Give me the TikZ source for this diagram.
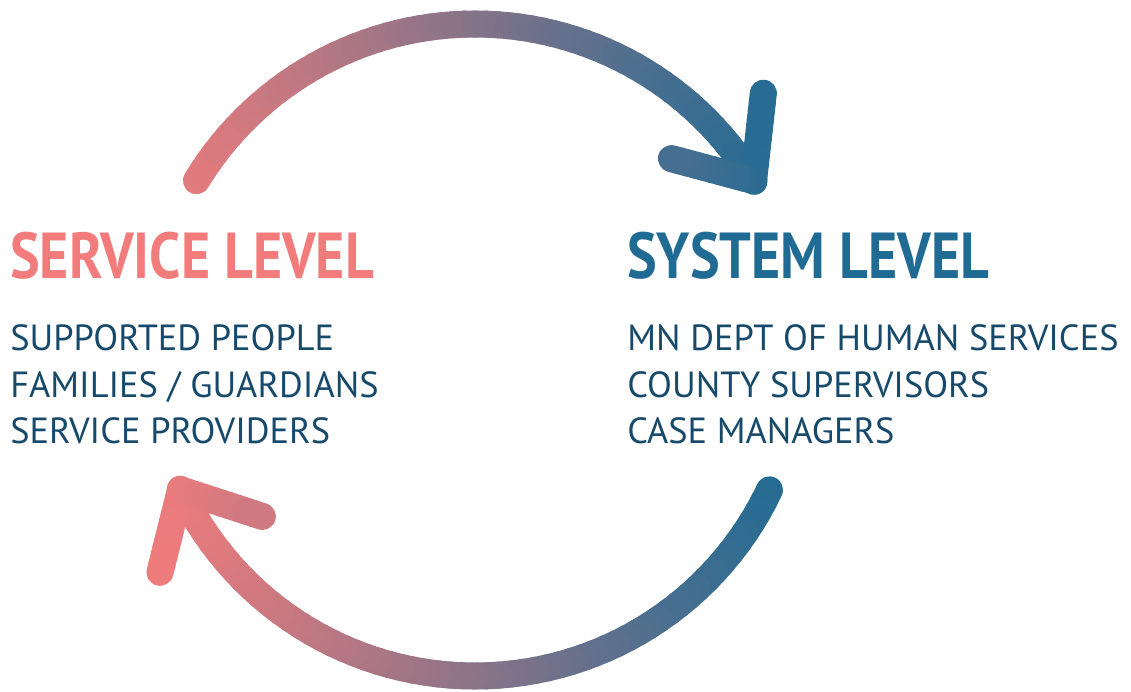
\documentclass[tikz,border=0pt]{standalone}
\usepackage{fontspec}
\usepackage{graphicx}
\setmainfont{PT Sans}
\usetikzlibrary{calc}
\definecolor{salmon}{HTML}{F27C7C}
\definecolor{sysblue}{HTML}{1F6B94}
\definecolor{listblue}{HTML}{17496A}
\tikzset{
  ring/.style={line width=0.54cm, line cap=round},
  heading/.style={inner sep=0pt, anchor=base west, font=\bfseries\fontsize{37}{40}\selectfont},
  entry/.style={inner sep=0pt, anchor=base west, font=\fontsize{20.7}{25}\selectfont, text=listblue},
}
\newcommand{\gradarm}[4]{%
  \foreach \k in {0,...,9}{%
    \pgfmathsetmacro{\pk}{#3+(\k+0.5)/10*(#4-#3)}%
    \draw[ring,sysblue!\pk!salmon] ($(#1)!\k/10!(#2)$) -- ($(#1)!\k/10+0.1!(#2)$);%
  }%
}
\begin{document}
\begin{tikzpicture}[x=0.02cm,y=0.02cm]
      \useasboundingbox (0,0) rectangle (1131,691);%

      \coordinate (c) at (475,341);%
      \coordinate (toptip) at ($(c)+(31.3:326)$);%
      \coordinate (toparmA) at ($(toptip)+(83.6:88)$);%
      \coordinate (toparmB) at ($(toptip)+(165:85)$);%
      \coordinate (bottip) at ($(c)+(205.4:326)$);%
      \coordinate (botarmA) at ($(bottip)+(-104:85)$);%
      \coordinate (botarmB) at ($(bottip)+(-18:86)$);%

      % upper arc, service -> system
      \foreach \i in {0,...,59}{%
        \pgfmathsetmacro{\a}{148.7-\i*1.957}%
        \pgfmathsetmacro{\p}{max(0,min(100,(475+326*cos(\a-1)-150)/6.4))}%
        \draw[ring,sysblue!\p!salmon] ($(c)+(\a:326)$) arc[start angle=\a, delta angle=-2.1, radius=6.52cm];%
      }%
      \gradarm{toptip}{toparmA}{94.3}{95.8}%
      \gradarm{toptip}{toparmB}{94.3}{81.5}%

      % lower arc, system -> service
      \foreach \i in {0,...,59}{%
        \pgfmathsetmacro{\a}{-25.4-\i*2.153}%
        \pgfmathsetmacro{\p}{max(0,min(100,(475+326*cos(\a-1)-150)/6.4))}%
        \draw[ring,sysblue!\p!salmon] ($(c)+(\a:326)$) arc[start angle=\a, delta angle=-2.3, radius=6.52cm];%
      }%
      \gradarm{bottip}{botarmA}{4.7}{1.5}%
      \gradarm{bottip}{botarmB}{4.7}{17.5}%

      \node[heading,text=salmon] (servhead) at (10,413) {\scalebox{0.86}[1]{SERVICE LEVEL}};%
      \node[entry] (serv1) at (10,341) {SUPPORTED PEOPLE};%
      \node[entry] (serv2) at (10,294) {FAMILIES / GUARDIANS};%
      \node[entry] (serv3) at (10,248) {SERVICE PROVIDERS};%

      \node[heading,text=sysblue] (syshead) at (627,413) {\scalebox{0.86}[1]{SYSTEM LEVEL}};%
      \node[entry] (sys1) at (627,341) {MN DEPT OF HUMAN SERVICES};%
      \node[entry] (sys2) at (627,294) {COUNTY SUPERVISORS};%
      \node[entry] (sys3) at (627,248) {CASE MANAGERS};%
\end{tikzpicture}
\end{document}
